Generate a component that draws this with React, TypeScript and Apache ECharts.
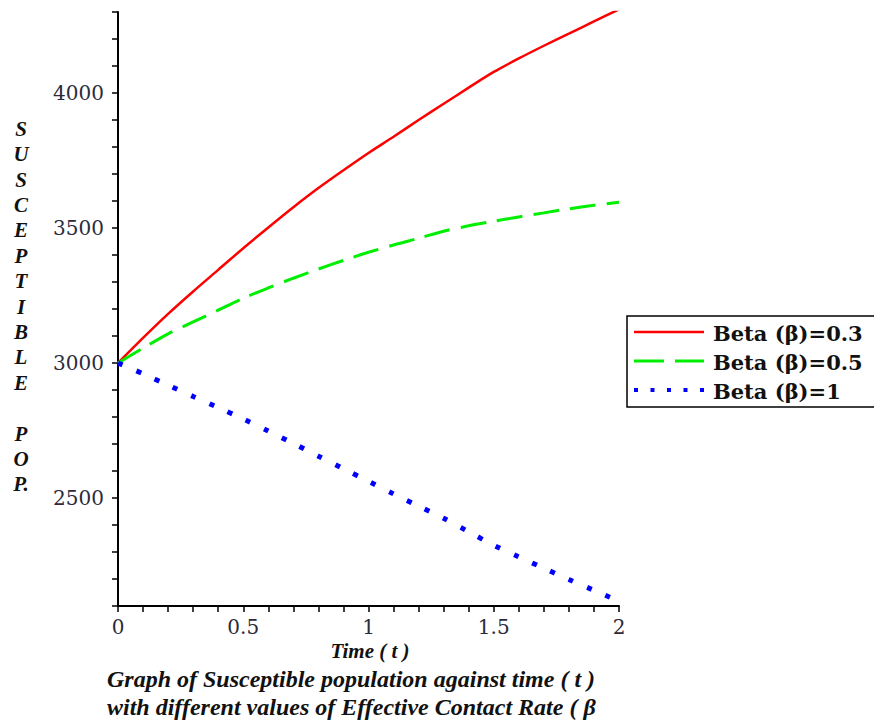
import React, { useEffect, useRef } from "react";
import * as echarts from "echarts";

const timeValues = [0, 0.1, 0.2, 0.3, 0.4, 0.5, 0.6, 0.7, 0.8, 0.9, 1.0, 1.1, 1.2, 1.3, 1.4, 1.5, 1.6, 1.7, 1.8, 1.9, 2.0];
const beta03 = [3000, 3093, 3182, 3265, 3345, 3425, 3502, 3577, 3648, 3714, 3778, 3838, 3900, 3960, 4020, 4078, 4128, 4175, 4220, 4265, 4310];
const beta05 = [3000, 3055, 3108, 3152, 3196, 3240, 3278, 3314, 3348, 3380, 3410, 3437, 3462, 3488, 3508, 3525, 3541, 3556, 3571, 3584, 3595];
const beta1 = [3000, 2960, 2918, 2876, 2835, 2793, 2748, 2702, 2655, 2608, 2562, 2515, 2470, 2425, 2375, 2325, 2282, 2240, 2198, 2158, 2118];

const seriesNames = ["Beta (β)=0.3", "Beta (β)=0.5", "Beta (β)=1"];
const seriesColors = ["#ff0000", "#00ee00", "#0000ff"];
const yTitleLetters = ["S", "U", "S", "C", "E", "P", "T", "I", "B", "L", "E", "", "P", "O", "P."];
const xTitle = "Time ( t )";
const captionLines = [
  "Graph of Susceptible population against time ( t )",
  "with different values of Effective Contact Rate ( β",
];

export default function App() {
  const ref = useRef<HTMLDivElement>(null);
  useEffect(() => {
    if (!ref.current) return;
    const chart = echarts.init(ref.current, null, { renderer: "svg" });
    const tickFont = { fontFamily: "DejaVu Serif", fontSize: 20, color: "#2b2b3b" };
    const serifBI = { fontFamily: "Liberation Serif", fontWeight: "bold", fontStyle: "italic" };
    const mk = (vals: number[]) => timeValues.map((t, i) => [t, vals[i]]);

    const legendX = 634;
    const legendRows = [332, 361, 390];
    const legendDash: any[] = [null, [30, 11], [4, 12.5]];
    const legendWidth = [2.5, 3, 4];

    chart.setOption({
      animation: false,
      backgroundColor: "#ffffff",
      grid: { left: 118, right: 255, top: 12, bottom: 117, containLabel: false },
      xAxis: {
        type: "value",
        min: 0,
        max: 2,
        interval: 0.1,
        axisLine: { show: true, lineStyle: { color: "#000", width: 2 } },
        axisTick: { show: true, length: 6, lineStyle: { color: "#000", width: 1.5 } },
        splitLine: { show: false },
        axisLabel: {
          ...tickFont,
          margin: 11,
          showMinLabel: true,
          showMaxLabel: true,
          formatter: (v: number) => {
            const r = Math.round(v * 2);
            return Math.abs(v * 2 - r) < 1e-6 ? String(r / 2) : "";
          },
        },
      },
      yAxis: {
        type: "value",
        min: 2100,
        max: 4300,
        interval: 100,
        axisLine: { show: true, lineStyle: { color: "#000", width: 2 } },
        axisTick: { show: true, length: 6, lineStyle: { color: "#000", width: 1.5 } },
        splitLine: { show: false },
        axisLabel: {
          ...tickFont,
          margin: 14,
          formatter: (v: number) => (Math.round(v) % 500 === 0 ? String(Math.round(v)) : ""),
        },
      },
      series: [
        {
          name: seriesNames[0],
          type: "line",
          data: mk(beta03),
          showSymbol: false,
          smooth: 0.3,
          lineStyle: { color: seriesColors[0], width: 2.5 },
        },
        {
          name: seriesNames[1],
          type: "line",
          data: mk(beta05),
          showSymbol: false,
          smooth: 0.3,
          lineStyle: { color: seriesColors[1], width: 3, type: [26, 11] },
        },
        {
          name: seriesNames[2],
          type: "line",
          data: mk(beta1),
          showSymbol: false,
          smooth: 0.3,
          lineStyle: { color: seriesColors[2], width: 5, type: [5, 15] },
        },
      ],
      graphic: [
        {
          type: "text",
          x: 21,
          y: 116,
          style: {
            text: yTitleLetters.join("\n"),
            ...serifBI,
            fontSize: 21,
            lineHeight: 25.4,
            align: "center",
            verticalAlign: "top",
            fill: "#111",
          },
        },
        {
          type: "text",
          x: 370,
          y: 651,
          style: {
            text: xTitle,
            ...serifBI,
            fontSize: 21,
            align: "center",
            verticalAlign: "middle",
            fill: "#111",
          },
        },
        ...captionLines.map((line, i) => ({
          type: "text",
          x: 107,
          y: 679 + i * 28,
          style: {
            text: line,
            ...serifBI,
            fontSize: 24,
            align: "left",
            verticalAlign: "middle",
            fill: "#111",
          },
        })),
        {
          type: "rect",
          shape: { x: 627, y: 316, width: 270, height: 91 },
          style: { fill: "#fff", stroke: "#000", lineWidth: 1.5 },
        },
        ...seriesNames.map((name, i) => ({
          type: "line",
          shape: { x1: legendX, y1: legendRows[i], x2: legendX + 70, y2: legendRows[i] },
          style: {
            stroke: seriesColors[i],
            lineWidth: legendWidth[i],
            lineDash: legendDash[i],
          },
        })),
        ...seriesNames.map((name, i) => ({
          type: "text",
          x: 713,
          y: legendRows[i] + 1,
          style: {
            text: name,
            fontFamily: "DejaVu Serif",
            fontWeight: "bold",
            fontSize: 21,
            align: "left",
            verticalAlign: "middle",
            fill: "#111",
          },
        })),
      ],
    });
    return () => chart.dispose();
  }, []);
  return <div ref={ref} style={{ position: "fixed", left: 0, top: 0, width: 874, height: 723 }} />;
}
